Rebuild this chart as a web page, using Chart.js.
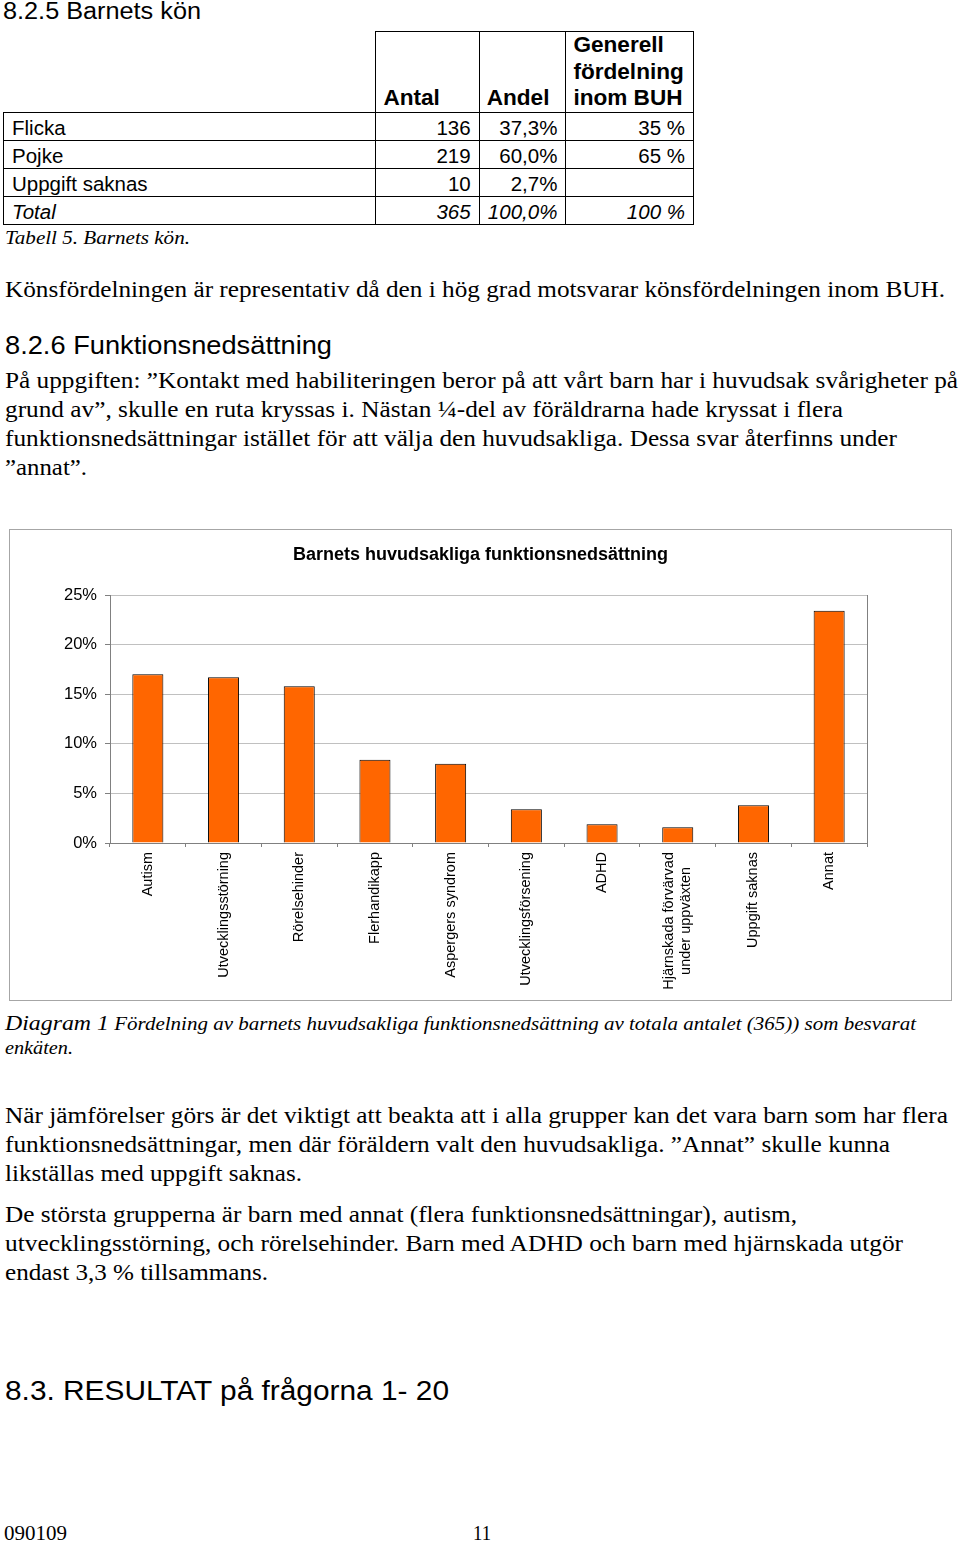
<!DOCTYPE html>
<html><head><meta charset="utf-8">
<script src="https://cdn.jsdelivr.net/npm/chart.js@4.4.1/dist/chart.umd.min.js"></script>
<style>
html,body{margin:0;padding:0;background:#fff;}
body{width:960px;height:1543px;position:relative;overflow:hidden;color:#000;}
.ln{position:absolute;white-space:nowrap;transform-origin:0 0;}
.serif{font-family:"Liberation Serif","Times New Roman",serif;}
.sans{font-family:"Liberation Sans",Arial,sans-serif;}
table{position:absolute;left:3px;top:31px;border-collapse:collapse;table-layout:fixed;font-family:"Liberation Sans",Arial,sans-serif;font-size:20.5px;}
td{border:1px solid #000;padding:3px 8px 0 8px;height:24px;line-height:24px;vertical-align:top;white-space:nowrap;overflow:hidden;}
td.n{text-align:right;}
tr.h td{vertical-align:bottom;font-weight:bold;font-size:22.6px;height:79.6px;line-height:26.6px;padding:0 7px;white-space:nowrap;}
tr.h td.blank{border-top:hidden;border-left:hidden;}
tr.t td{font-style:italic;}
#chartbox{position:absolute;left:9px;top:529px;width:941px;height:470px;border:1px solid #a6a6a6;}
#chartbox canvas{display:block;}
</style></head>
<body>
<table>
<colgroup><col style="width:372.4px"><col style="width:103.3px"><col style="width:86.7px"><col style="width:127.6px"></colgroup>
<tr class="h"><td class="blank"></td><td>Antal</td><td>Andel</td><td>Generell<br>fördelning<br>inom BUH</td></tr>
<tr><td>Flicka</td><td class="n">136</td><td class="n">37,3%</td><td class="n">35 %</td></tr>
<tr><td>Pojke</td><td class="n">219</td><td class="n">60,0%</td><td class="n">65 %</td></tr>
<tr><td>Uppgift saknas</td><td class="n">10</td><td class="n">2,7%</td><td class="n"></td></tr>
<tr class="t"><td>Total</td><td class="n">365</td><td class="n">100,0%</td><td class="n">100 %</td></tr>
</table>
<div id="chartbox"><canvas id="c" width="941" height="470"></canvas></div>
<script>
// ---- chart data ----
const categories = ['Autism','Utvecklingsstörning','Rörelsehinder','Flerhandikapp','Aspergers syndrom','Utvecklingsförsening','ADHD',['Hjärnskada förvärvad','under uppväxten'],'Uppgift saknas','Annat'];
const shares = [17.0,16.7,15.8,8.4,8.0,3.4,1.9,1.6,3.8,23.4];
const yTicks = [0,5,10,15,20,25];
const chartTitle = 'Barnets huvudsakliga funktionsnedsättning';

// ---- document text lines: [text, x, baseline, size, family, style, targetWidth] ----
const B = 24; // body size
const lines = [
 ['8.2.5 Barnets kön',3.3,19.5,23.5,'sans','normal',198],
 ['Tabell 5. Barnets kön.',5,244,19.5,'serif','italic',185],
 ['Könsfördelningen är representativ då den i hög grad motsvarar könsfördelningen inom BUH.',5,297,B,'serif','normal',940],
 ['8.2.6 Funktionsnedsättning',5,354,26,'sans','normal',327],
 ['På uppgiften: ”Kontakt med habiliteringen beror på att vårt barn har i huvudsak svårigheter på',5,388.5,B,'serif','normal',953],
 ['grund av”, skulle en ruta kryssas i. Nästan ¼-del av föräldrarna hade kryssat i flera',5,417.5,B,'serif','normal',838],
 ['funktionsnedsättningar istället för att välja den huvudsakliga. Dessa svar återfinns under',5,446.5,B,'serif','normal',892],
 ['”annat”.',5,475.5,B,'serif','normal',82],
 ['<span style="font-size:21px">Diagram 1</span> Fördelning av barnets huvudsakliga funktionsnedsättning av totala antalet (365)) som besvarat',5,1029,18.5,'serif','italic',911],
 ['enkäten.',5,1054,18.5,'serif','italic',68],
 ['När jämförelser görs är det viktigt att beakta att i alla grupper kan det vara barn som har flera',5,1123.5,B,'serif','normal',943],
 ['funktionsnedsättningar, men där föräldern valt den huvudsakliga. ”Annat” skulle kunna',5,1152.5,B,'serif','normal',885],
 ['likställas med uppgift saknas.',5,1181.5,B,'serif','normal',297],
 ['De största grupperna är barn med annat (flera funktionsnedsättningar), autism,',5,1222.5,B,'serif','normal',792],
 ['utvecklingsstörning, och rörelsehinder. Barn med ADHD och barn med hjärnskada utgör',5,1251.5,B,'serif','normal',898],
 ['endast 3,3 % tillsammans.',5,1280.5,B,'serif','normal',263],
 ['8.3. RESULTAT på frågorna 1- 20',5,1401,27,'sans','normal',444],
 ['090109',4,1540,20,'serif','normal',63],
 ['11',473,1540,20,'serif','normal',18]
];
lines.forEach(([t,x,b,fs,fam,st,w])=>{
  const d=document.createElement('div');
  d.className='ln '+fam;
  d.innerHTML=t;
  const off = fam==='sans'?0.8465:0.8375;
  d.style.cssText=`left:${x}px;top:${b-off*fs}px;font-size:${fs}px;line-height:${fs}px;font-style:${st};`;
  document.body.appendChild(d);
  const nw=d.getBoundingClientRect().width;
  if(nw>0) d.style.transform=`scaleX(${w/nw})`;
});

// ---- chart ----
const gridGray='#c0c0c0', axisGray='#808080';
const xFont={family:'Liberation Sans',size:14.5};

// centre multi-line rotated category labels on their tick (as in the original)
const centreMultiline={
  id:'centreMultiline',
  beforeDraw(chart){
    const sc=chart.scales.x;
    const items=sc.getLabelItems(chart.chartArea);
    const ctx=chart.ctx;
    items.forEach(it=>{
      if(Array.isArray(it.label)&&it.label.length>1){
        ctx.save();
        ctx.font=it.font.string;
        const wmax=Math.max(...it.label.map(s=>ctx.measureText(s).width));
        ctx.restore();
        const lh=it.font.lineHeight;
        it.options.translation[0]-=lh*(it.label.length-1)/2;
        it.options.translation[1]+=wmax/2;
        it.options.textAlign='center';
      }
    });
  }
};

new Chart(document.getElementById('c'),{
  type:'bar',
  data:{labels:categories,datasets:[{data:shares,backgroundColor:'#FF6600',borderColor:'#000',borderWidth:1,barPercentage:0.41,categoryPercentage:1}]},
  plugins:[centreMultiline],
  options:{
    responsive:false,animation:false,devicePixelRatio:1,
    layout:{padding:0},
    plugins:{
      legend:{display:false},tooltip:{enabled:false},
      title:{display:true,text:chartTitle,color:'#000',font:{family:'Liberation Sans',size:18,weight:'bold'},padding:{top:14,bottom:29.4}}
    },
    scales:{
      x:{
        grid:{display:true,drawOnChartArea:false,drawTicks:true,tickLength:4,tickColor:axisGray,color:axisGray,offset:true},
        border:{display:true,color:axisGray},
        ticks:{maxRotation:90,minRotation:90,autoSkip:false,padding:5,color:'#000',font:xFont},
        afterFit(s){s.height=157;}
      },
      y:{
        min:0,max:25,
        afterBuildTicks(s){s.ticks=yTicks.map(v=>({value:v}));},
        grid:{color:gridGray,tickColor:axisGray,tickLength:5},
        border:{display:true,color:axisGray},
        ticks:{callback:v=>v+'%',padding:8,color:'#000',font:{family:'Liberation Sans',size:16.5}},
        afterFit(s){s.width=100;}
      },
      yr:{
        position:'right',display:true,
        grid:{display:false},ticks:{display:false},
        border:{display:true,color:axisGray},
        afterFit(s){s.width=84;}
      }
    }
  }
});
</script>
</body></html>
